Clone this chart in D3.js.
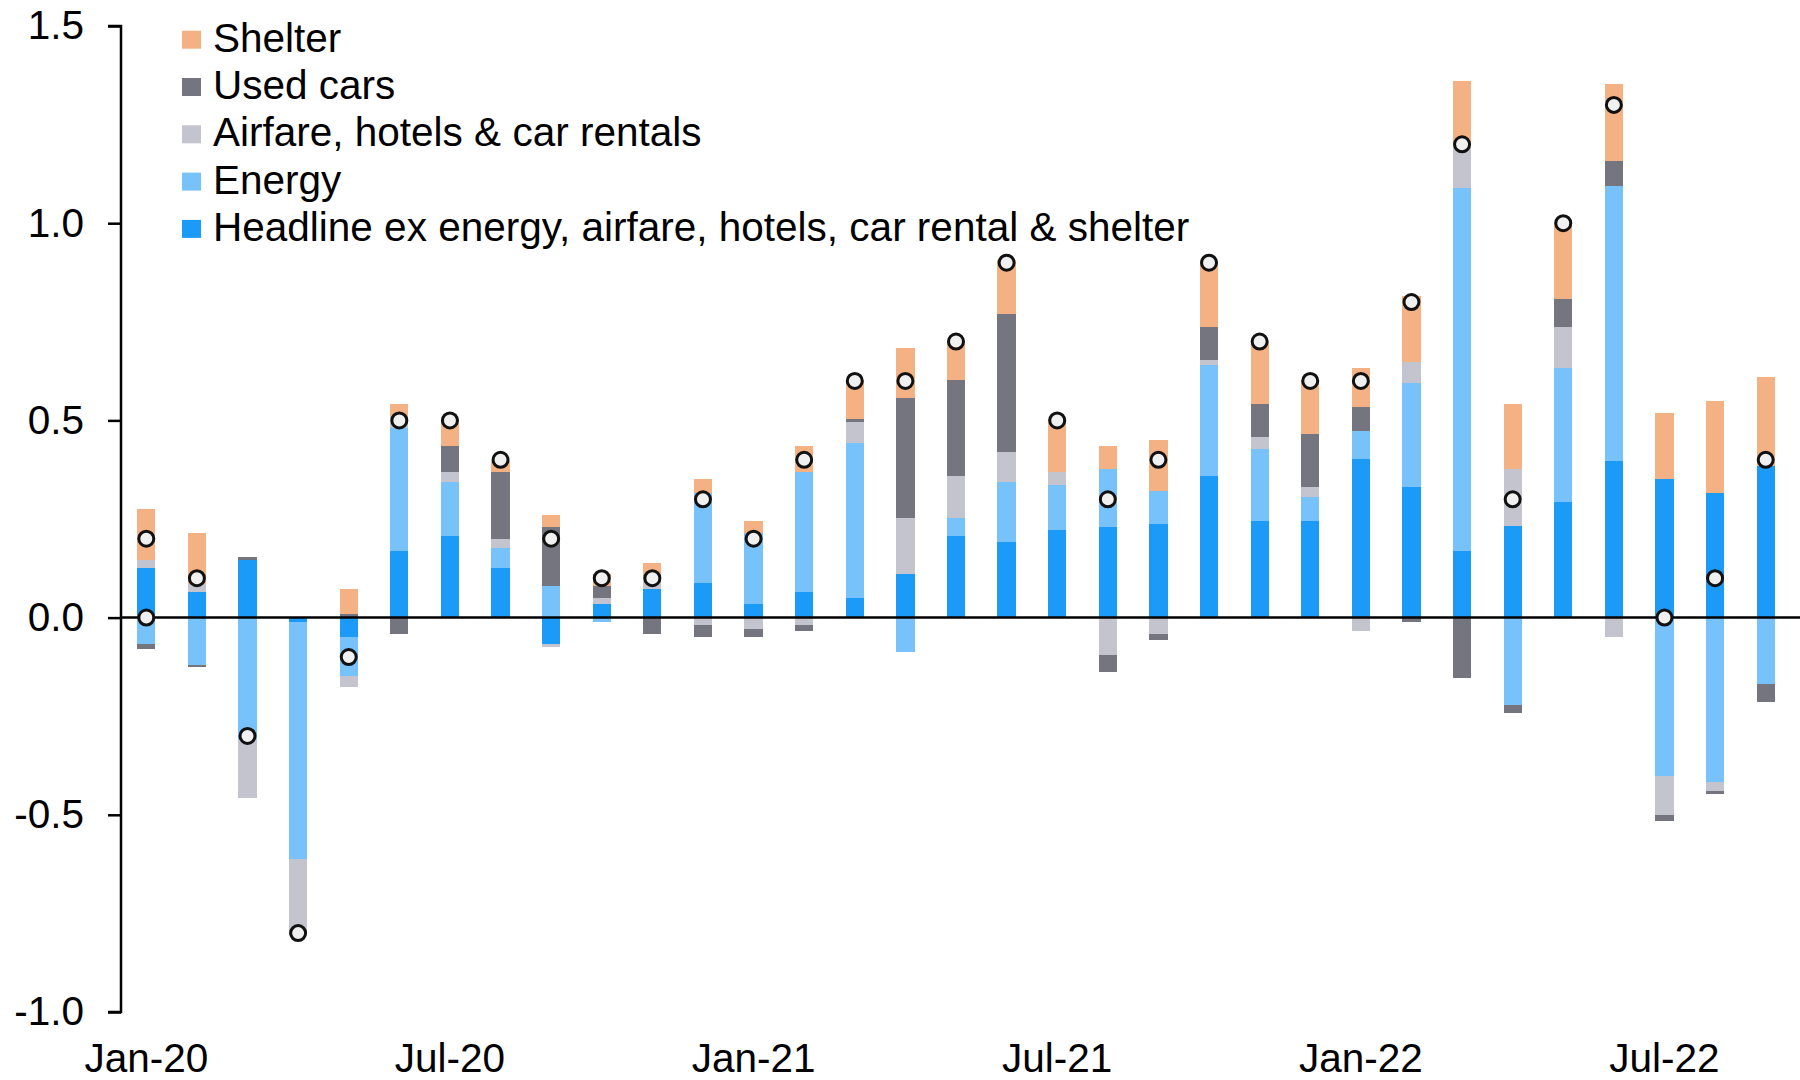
<!DOCTYPE html>
<html>
<head>
<meta charset="utf-8">
<script src="https://cdnjs.cloudflare.com/ajax/libs/d3/7.8.5/d3.min.js"></script>
<style>
  body { margin: 0; background: #fff; }
  .chart text { font-family: "Liberation Sans", Arial, sans-serif; font-size: 40.5px; fill: #000; }
</style>
</head>
<body>
<svg class="chart"></svg>
<script>

// Chart values:

var months = ["Jan-20","Feb-20","Mar-20","Apr-20","May-20","Jun-20","Jul-20","Aug-20","Sep-20","Oct-20","Nov-20","Dec-20",
	"Jan-21","Feb-21","Mar-21","Apr-21","May-21","Jun-21","Jul-21","Aug-21","Sep-21","Oct-21","Nov-21","Dec-21",
	"Jan-22","Feb-22","Mar-22","Apr-22","May-22","Jun-22","Jul-22","Aug-22","Sep-22"];

var headline = [0.126, 0.064, 0.146, -0.011, -0.05, 0.169, 0.207, 0.126, -0.066, 0.034, 0.072, 0.087,
	0.034, 0.064, 0.049, 0.11, 0.207, 0.192, 0.222, 0.23, 0.238, 0.36, 0.245, 0.245,
	0.403, 0.33, 0.17, 0.231, 0.292, 0.396, 0.352, 0.315, 0.384];

var energy = [-0.066, -0.119, -0.311, -0.6, -0.097, 0.311, 0.138, 0.051, 0.08, -0.011, 0, 0.228,
	0.18, 0.304, 0.393, -0.088, 0.046, 0.153, 0.115, 0.146, 0.084, 0.281, 0.182, 0.062,
	0.069, 0.266, 0.918, -0.221, 0.341, 0.699, -0.402, -0.417, -0.168];

var airfare = [0.02, 0.022, -0.147, -0.195, -0.03, 0.03, 0.023, 0.022, -0.008, 0.015, 0.03, -0.02,
	-0.028, -0.02, 0.054, 0.143, 0.107, 0.074, 0.031, -0.095, -0.042, 0.013, 0.03, 0.023,
	-0.033, 0.053, 0.104, 0.145, 0.105, -0.048, -0.099, -0.023, 0];

var usedCars = [-0.014, -0.007, 0.008, 0, 0.01, -0.042, 0.066, 0.169, 0.15, 0.031, -0.042, -0.029,
	-0.021, -0.014, 0.007, 0.304, 0.243, 0.35, 0, -0.044, -0.015, 0.084, 0.084, 0.135,
	0.061, -0.012, -0.152, -0.022, 0.069, 0.062, -0.014, -0.007, -0.046];

var shelter = [0.13, 0.129, 0, 0, 0.062, 0.031, 0.069, 0.028, 0.031, 0.03, 0.036, 0.037,
	0.031, 0.066, 0.1, 0.127, 0.096, 0.137, 0.135, 0.058, 0.128, 0.168, 0.158, 0.138,
	0.1, 0.166, 0.169, 0.165, 0.196, 0.196, 0.166, 0.234, 0.227];

var headlineCpi = [0.2, 0.1, -0.3, -0.8, -0.1, 0.5, 0.5, 0.4, 0.2, 0.1, 0.1, 0.3,
	0.2, 0.4, 0.6, 0.6, 0.7, 0.9, 0.5, 0.3, 0.4, 0.9, 0.7, 0.6,
	0.6, 0.8, 1.2, 0.3, 1.0, 1.3, 0.0, 0.1, 0.4];

// a stray marker sits on the zero line at Jan-20 in the original
var extraMarkers = [{month: "Jan-20", value: 0.0}];

var yTicks = [-1.0, -0.5, 0.0, 0.5, 1.0, 1.5];
var xTickLabels = ["Jan-20", "Jul-20", "Jan-21", "Jul-21", "Jan-22", "Jul-22"];

var seriesKeys = ["headline", "energy", "airfare", "usedCars", "shelter"];
var seriesLabels = {
	headline: "Headline ex energy, airfare, hotels, car rental & shelter",
	energy: "Energy",
	airfare: "Airfare, hotels & car rentals",
	usedCars: "Used cars",
	shelter: "Shelter"
};
var seriesColors = {
	headline: "#1b9af7",
	energy: "#77c2fb",
	airfare: "#c4c4ce",
	usedCars: "#75757f",
	shelter: "#f4b284"
};

// Basic dimensions:

var width = 1800,
	height = 1080,
	axisX = 121,
	plotRight = 1791,
	plotTop = 26,
	plotBottom = 1012,
	dotRadius = 7.5;

var chart = d3.select(".chart")
	.attr("width", width)
	.attr("height", height);

// Build rows for the stack:

var rows = months.map(function(m, i) {
	return {
		month: m,
		headline: headline[i],
		energy: energy[i],
		airfare: airfare[i],
		usedCars: usedCars[i],
		shelter: shelter[i],
		total: headlineCpi[i]
	};
});

var stack = d3.stack()
	.keys(seriesKeys)
	.offset(d3.stackOffsetDiverging);

var layers = stack(rows);

// Scales:

var x = d3.scaleBand()
	.domain(months)
	.range([axisX, plotRight])
	.paddingInner(0.64)
	.paddingOuter(0.32);

var y = d3.scaleLinear()
	.domain([-1.0, 1.5])
	.range([plotBottom, plotTop]);

// Draw the stacked bars:

var groups = chart.selectAll("g.layer")
	.data(layers)
.enter().append("g")
	.attr("class", "layer")
	.style("fill", function(d) { return seriesColors[d.key]; });

groups.selectAll("rect")
	.data(function(d) { return d; })
.enter().append("rect")
	.attr("x", function(d) { return x(d.data.month); })
	.attr("width", x.bandwidth())
	.attr("y", function(d) { return y(Math.max(d[0], d[1])); })
	.attr("height", function(d) { return Math.abs(y(d[0]) - y(d[1])); })
	.attr("shape-rendering", "crispEdges");

// Zero line across the plot:

chart.append("line")
	.attr("x1", axisX)
	.attr("x2", width)
	.attr("y1", y(0))
	.attr("y2", y(0))
	.style("stroke", "#000")
	.style("stroke-width", 2.5);

// Dots for headline CPI:

var dotData = rows.map(function(d) { return {month: d.month, value: d.total}; }).concat(extraMarkers);

chart.selectAll("circle.dot")
	.data(dotData)
.enter().append("circle")
	.attr("class", "dot")
	.attr("cx", function(d) { return x(d.month) + x.bandwidth() / 2; })
	.attr("cy", function(d) { return y(d.value); })
	.attr("r", dotRadius)
	.style("fill", "#f0f0f0")
	.style("stroke", "#111")
	.style("stroke-width", 3);

// Y axis with ticks pointing left (plain hyphen for negatives):

var fmt = d3.format(".1f");

var yAxis = d3.axisLeft(y)
	.tickValues(yTicks)
	.tickSize(13)
	.tickPadding(24)
	.tickFormat(function(d) { return fmt(d).replace("\u2212", "-"); });

var yAxisG = chart.append("g")
	.attr("transform", "translate(" + axisX + ",0)")
	.call(yAxis);

yAxisG.select(".domain")
	.attr("d", "M-13," + y(1.5) + "H0V" + y(-1.0) + "H-13")
	.style("stroke", "#000")
	.style("stroke-width", 2.5);
yAxisG.selectAll(".tick line")
	.style("stroke", "#000")
	.style("stroke-width", 2.5);
yAxisG.selectAll("text")
	.attr("font-size", null)
	.attr("font-family", null);

// X axis labels only (no line, no ticks):

var xAxis = d3.axisBottom(x)
	.tickValues(xTickLabels)
	.tickSize(0)
	.tickPadding(0);

var xAxisG = chart.append("g")
	.attr("transform", "translate(0,1040)")
	.call(xAxis);

xAxisG.select(".domain").remove();
xAxisG.selectAll("text")
	.attr("font-size", null)
	.attr("font-family", null)
	.attr("dy", "0.8em");

// Legend, top series first:

var legendKeys = seriesKeys.slice().reverse();

var legend = chart.selectAll("g.legend")
	.data(legendKeys)
.enter().append("g")
	.attr("class", "legend")
	.attr("transform", function(d, i) { return "translate(182," + (51.7 + i * 47.3) + ")"; });

legend.append("rect")
	.attr("x", 0)
	.attr("y", -21)
	.attr("width", 19)
	.attr("height", 18)
	.style("fill", function(d) { return seriesColors[d]; });

legend.append("text")
	.attr("x", 31)
	.attr("y", 0)
	.text(function(d) { return seriesLabels[d]; });

</script>
</body>
</html>
